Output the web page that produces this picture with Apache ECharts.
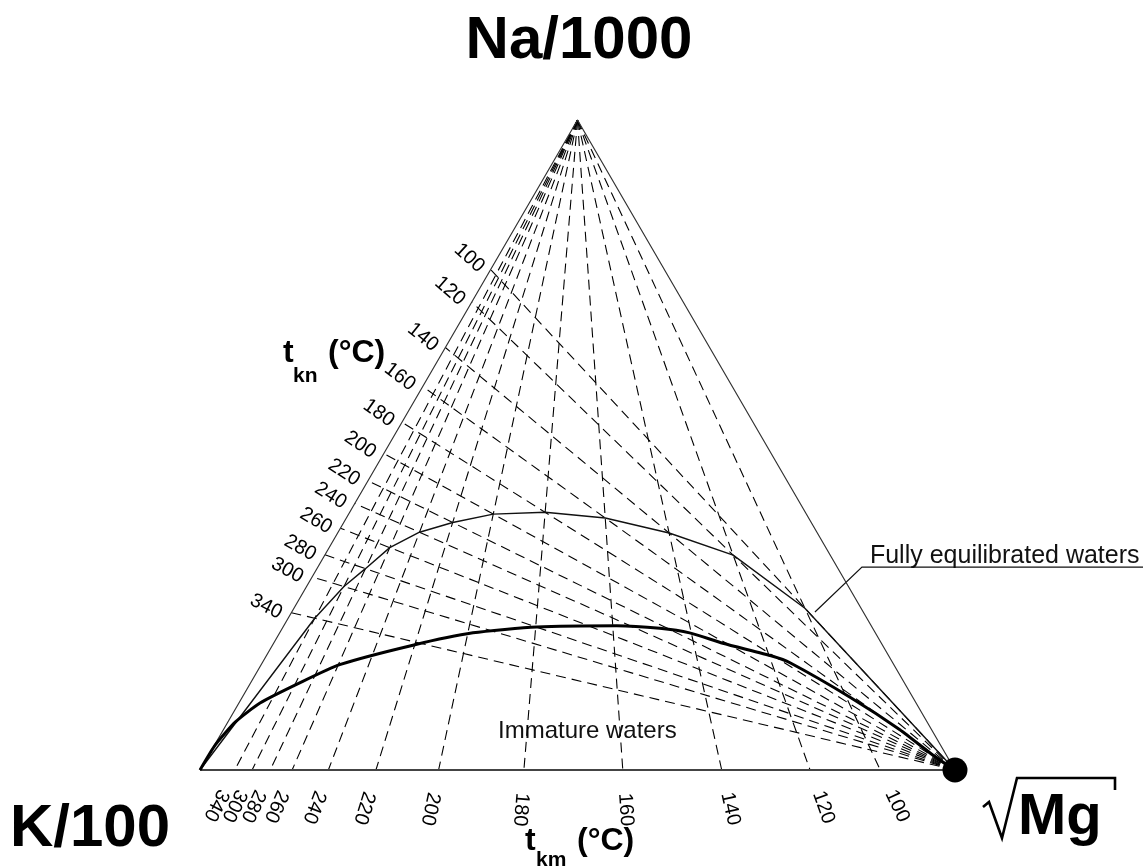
<!DOCTYPE html>
<html>
<head>
<meta charset="utf-8">
<script src="https://cdn.jsdelivr.net/npm/echarts@6/dist/echarts.min.js"></script>
<style>
  html, body { margin: 0; padding: 0; background: #fff; }
  #chart { width: 1147px; height: 868px; }
</style>
</head>
<body>
<div id="chart"></div>
<script>
// Na/1000 – K/100 – sqrt(Mg) ternary diagram with K-Na and K-Mg isotherms.

// t_km isotherms: temperature and where each meets the K–Mg base (fraction towards Mg)
const tkmTemps = [340, 300, 280, 260, 240, 220, 200, 180, 160, 140, 120, 100];
const tkmBase  = [0.046, 0.069, 0.093, 0.122, 0.170, 0.233, 0.316, 0.429, 0.560, 0.691, 0.808, 0.901];

// t_kn isotherms: temperature and where each meets the K–Na side (fraction towards Na)
const tknTemps = [340, 300, 280, 260, 240, 220, 200, 180, 160, 140, 120, 100];
const tknSide  = [0.242, 0.297, 0.331, 0.372, 0.410, 0.445, 0.487, 0.535, 0.590, 0.650, 0.720, 0.770];

// Boundary of immature waters (percent Na/1000 and percent sqrt(Mg))
const immatureNa = [0, 3.9, 7.4, 10.3, 13.4, 16.2, 19.2, 21.1, 22.0, 22.2, 21.8, 21.1, 19.5, 17.5, 16.5, 11.2, 6.2, 2.0, 0];
const immatureMg = [0, 0.1, 1.0, 2.8, 6.5, 10.4, 18.6, 25.6, 33.6, 44.1, 50.0, 54.3, 59.5, 67.1, 69.9, 80.5, 89.6, 96.4, 100];

// Point on the full-equilibrium line where the label leader starts (fractions)
const leaderAnchor = { na: 0.243, mg: 0.693 };

const SQ = Math.sqrt(3) / 2;
const toXY = (na, mg) => [mg + na / 2, na * SQ];
const NA_V = toXY(1, 0), K_V = toXY(0, 0), MG_V = toXY(0, 1);
const DEG = 180 / Math.PI;

// dashed isotherm segments
const tkmLines = tkmBase.map(m => ({ coords: [NA_V, toXY(0, m)] }));
const tknLines = tknSide.map(t => ({ coords: [MG_V, toXY(t, 0)] }));

// full equilibrium: where the t_kn and t_km isotherms of equal temperature cross
const equil = [K_V];
tkmTemps.forEach((T, i) => {
  const j = tknTemps.indexOf(T);
  if (j < 0) return;
  const m = tkmBase[i], t = tknSide[j];
  const k = 1 / (1 + t / (1 - t) + m / (1 - m));
  equil.push(toXY(k * t / (1 - t), k * m / (1 - m)));
});
equil.push(MG_V);

const immature = immatureNa.map((n, i) => toXY(n / 100, immatureMg[i] / 100));

// tick labels: bottom ones sit on the extension of each isotherm, turned along it
function unit(a, b) {
  const dx = b[0] - a[0], dy = b[1] - a[1], l = Math.hypot(dx, dy);
  return [dx / l, dy / l];
}
const tkmLabels = tkmTemps.map((T, i) => {
  const p = toXY(0, tkmBase[i]);
  const u = unit(NA_V, p);
  const d = 0.053;
  return {
    value: [p[0] + u[0] * d, p[1] + u[1] * d],
    name: String(T),
    label: { rotate: Math.atan2(u[1], u[0]) * DEG }
  };
});
// side labels sit just outside the K–Na side, tilted down towards the Mg corner
const sideDown = unit(NA_V, K_V);
const tknLabels = tknTemps.map((T, i) => {
  const p = toXY(tknSide[i], 0);
  const lineAng = Math.atan2(-(MG_V[1] - p[1]), MG_V[0] - p[0]) * DEG; // screen angle, degrees
  const a = (21 + 0.45 * lineAng) / DEG;
  const u = [Math.cos(a), -Math.sin(a)];
  const d = 0.033, s = 0.008;
  return {
    value: [p[0] - u[0] * d + sideDown[0] * s, p[1] - u[1] * d + sideDown[1] * s],
    name: String(T),
    label: { rotate: -a * DEG }
  };
});

const FONT = '"Liberation Sans", Arial, Helvetica, sans-serif';
const dash = { color: '#000', width: 1.1, type: [10, 6], opacity: 1 };

const chart = echarts.init(document.getElementById('chart'), null, { renderer: 'canvas' });
chart.setOption({
  animation: false,
  backgroundColor: '#fff',
  grid: { left: 200, top: 120, width: 755, height: 650 },
  xAxis: { type: 'value', min: 0, max: 1, show: false },
  yAxis: { type: 'value', min: 0, max: SQ, show: false },
  series: [
    { type: 'lines', coordinateSystem: 'cartesian2d', data: tkmLines, lineStyle: dash, silent: true, z: 2 },
    { type: 'lines', coordinateSystem: 'cartesian2d', data: tknLines, lineStyle: dash, silent: true, z: 2 },
    { type: 'line', data: [K_V, NA_V, MG_V], symbol: 'none', lineStyle: { color: '#333', width: 1.2 }, z: 3 },
    { type: 'line', data: [K_V, MG_V], symbol: 'none', lineStyle: { color: '#444', width: 2 }, z: 3 },
    { type: 'line', data: equil, symbol: 'none', lineStyle: { color: '#111', width: 1.4 }, z: 4 },
    { type: 'line', data: immature, symbol: 'none', smooth: 0.2, lineStyle: { color: '#000', width: 3 }, z: 4 },
    { type: 'scatter', data: [MG_V], symbolSize: 25, clip: false, itemStyle: { color: '#000', opacity: 1 }, z: 5 },
    {
      type: 'scatter', data: tkmLabels.concat(tknLabels), symbolSize: 1, clip: false,
      itemStyle: { color: 'rgba(0,0,0,0)', opacity: 1 },
      label: {
        show: true, position: 'inside', formatter: p => p.name,
        fontFamily: FONT, fontSize: 20, color: '#000', align: 'center', verticalAlign: 'middle'
      },
      labelLayout: { hideOverlap: false },
      z: 6
    }
  ]
});

// text annotations and axis captions
const anchor = chart.convertToPixel({ gridIndex: 0 }, toXY(leaderAnchor.na, leaderAnchor.mg));
const elbow = [anchor[0] + 47, anchor[1] - 45];
const bold = (text, x, y, size, align) => ({
  type: 'text', x, y, silent: true,
  style: { text, fontFamily: FONT, fontWeight: 'bold', fontSize: size, fill: '#000',
           align: align || 'left', verticalAlign: 'middle' }
});
const plain = (text, x, y, size) => ({
  type: 'text', x, y, silent: true,
  style: { text, fontFamily: FONT, fontSize: size, fill: '#111', align: 'left', verticalAlign: 'middle' }
});

chart.setOption({
  graphic: [
    bold('Na/1000', 579, 41, 60, 'center'),
    bold('K/100', 10, 829, 60),
    bold('Mg', 1018, 818, 58),
    { type: 'polyline', silent: true,
      shape: { points: [[983, 807], [989, 802], [1002, 838], [1017, 778], [1115, 778], [1115, 790]] },
      style: { stroke: '#000', lineWidth: 2.6, fill: null } },
    bold('t', 283, 353, 32),
    bold('kn', 293, 376, 21),
    bold('(°C)', 328, 353, 32),
    bold('t', 525, 841, 32),
    bold('km', 536, 860, 21),
    bold('(°C)', 577, 841, 32),
    plain('Immature waters', 498, 731, 24),
    plain('Fully equilibrated waters', elbow[0] + 8, elbow[1] - 11, 25),
    { type: 'polyline', silent: true,
      shape: { points: [anchor, elbow, [1143, elbow[1]]] },
      style: { stroke: '#111', lineWidth: 1.2, fill: null } }
  ]
});
</script>
</body>
</html>
